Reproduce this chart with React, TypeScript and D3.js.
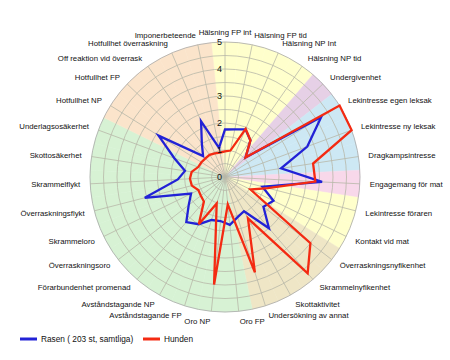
import React, { useEffect, useRef } from 'react';
import * as d3 from 'd3';

const axisLabels = [
  'Hälsning FP int', 'Hälsning FP tid', 'Hälsning NP Int', 'Hälsning NP tid',
  'Undergivenhet', 'Lekintresse egen leksak', 'Lekintresse ny leksak', 'Dragkampsintresse',
  'Engagemang för mat', 'Lekintresse föraren', 'Kontakt vid mat', 'Överraskningsnyfikenhet',
  'Skrammelnyfikenhet', 'Skottaktivitet', 'Undersökning av annat', 'Oro FP', 'Oro NP',
  'Avståndstagande FP', 'Avståndstagande NP', 'Förarbundenhet promenad', 'Överraskningsoro',
  'Skrammeloro', 'Överraskningsflykt', 'Skrammelflykt', 'Skottosäkerhet', 'Underlagsosäkerhet',
  'Hotfullhet NP', 'Hotfullhet FP', 'Off reaktion vid överrask', 'Hotfullhet överraskning',
  'Imponerbeteende',
];

// which background group each axis belongs to
const axisGroups = [
  'social', 'social', 'social', 'social',
  'undergiven', 'lek', 'lek', 'lek',
  'mat', 'social', 'social', 'nyfiken',
  'nyfiken', 'nyfiken', 'nyfiken', 'radsla', 'radsla',
  'radsla', 'radsla', 'radsla', 'radsla',
  'radsla', 'radsla', 'radsla', 'radsla', 'radsla',
  'aggr', 'aggr', 'aggr', 'aggr',
  'aggr',
];

const rasen = [
  1.76, 1.8, 1.92, 1.65,
  1.05, 4.2, 3.25, 2.1,
  3.6, 1.43, 2.0, 1.8,
  2.5, 1.45, 1.56, 1.78, 1.64,
  1.67, 2.0, 2.2, 1.7,
  1.4, 3.07, 1.75, 1.5, 2.0,
  2.9, 1.12, 1.5, 2.25,
  1.1,
];

const hunden = [
  0.95, 1.0, 1.94, 1.65,
  1.05, 5.0, 5.0, 3.3,
  3.35, 1.63, 1.05, 4.0,
  4.7, 1.75, 3.7, 1.02, 4.0,
  1.03, 2.0, 1.2, 1.13,
  1.1, 1.27, 1.3, 1.25, 1.06,
  1.03, 1.0, 1.0, 0.95,
  0.92,
];

const ticks = [0, 1, 2, 3, 4, 5];
const seriesNames = ['Rasen ( 203 st, samtliga)', 'Hunden'];

const groupColor: Record<string, string> = {
  social: '#ffffcc',
  undergiven: '#e6d0e6',
  lek: '#cde8f4',
  mat: '#f8d8ea',
  nyfiken: '#efe6c6',
  radsla: '#d7f2d4',
  aggr: '#fbe4cb',
};

const App = () => {
  const svgRef = useRef<SVGSVGElement>(null);

  useEffect(() => {
    const width = 450;
    const height = 360;
    const cx = 225;
    const cy = 177;
    const R = 135;
    const n = axisLabels.length;
    const step = (2 * Math.PI) / n;
    const font = '"Liberation Sans", Arial, sans-serif';

    const svg = d3.select(svgRef.current);
    svg.selectAll('*').remove();
    svg.attr('width', width).attr('height', height);

    const g = svg.append('g').attr('transform', `translate(${cx},${cy})`);
    const r = d3.scaleLinear().domain([0, 5]).range([0, R]);

    // background sectors
    const arc = d3.arc<number>()
      .innerRadius(0)
      .outerRadius(R)
      .startAngle((i) => i * step - step / 2)
      .endAngle((i) => i * step + step / 2);

    g.selectAll('.sector')
      .data(d3.range(n))
      .enter()
      .append('path')
      .attr('d', (i) => arc(i))
      .attr('fill', (i) => groupColor[axisGroups[i]])
      .attr('stroke', (i) => groupColor[axisGroups[i]])
      .attr('stroke-width', 0.5);

    // rings every half unit
    g.selectAll('.ring')
      .data(d3.range(0.5, 5.01, 0.5))
      .enter()
      .append('circle')
      .attr('r', (d) => r(d))
      .attr('fill', 'none')
      .attr('stroke', (d) => (d === 5 ? '#a8a8a8' : '#b8b7a8'))
      .attr('stroke-width', 0.8);

    // spokes
    g.selectAll('.spoke')
      .data(d3.range(n))
      .enter()
      .append('line')
      .attr('x1', 0)
      .attr('y1', 0)
      .attr('x2', (i) => R * Math.sin(i * step))
      .attr('y2', (i) => -R * Math.cos(i * step))
      .attr('stroke', '#b8b7a8')
      .attr('stroke-width', 0.8);

    // series
    const line = d3.lineRadial<number>()
      .angle((d, i) => i * step)
      .radius((d) => r(d))
      .curve(d3.curveLinearClosed);

    g.append('path')
      .attr('d', line(rasen))
      .attr('fill', 'none')
      .attr('stroke', '#2222d6')
      .attr('stroke-width', 2.3)
      .attr('stroke-linejoin', 'miter');

    g.append('path')
      .attr('d', line(hunden))
      .attr('fill', 'none')
      .attr('stroke', '#f42a12')
      .attr('stroke-width', 2.3)
      .attr('stroke-linejoin', 'miter');

    // tick labels
    g.selectAll('.tick')
      .data(ticks)
      .enter()
      .append('text')
      .attr('x', -3)
      .attr('y', (d) => -r(d))
      .attr('dy', '0.35em')
      .attr('text-anchor', 'end')
      .style('font-family', font)
      .style('font-size', '9px')
      .attr('fill', '#111')
      .text((d) => d);

    // axis labels
    g.selectAll('.label')
      .data(axisLabels)
      .enter()
      .append('text')
      .attr('x', (d, i) => (R + 10) * Math.sin(i * step))
      .attr('y', (d, i) => -(R + 10) * Math.cos(i * step))
      .attr('dy', '0.35em')
      .attr('text-anchor', (d, i) => {
        const s = Math.sin(i * step);
        if (Math.abs(s) < 0.01) return 'middle';
        return s > 0 ? 'start' : 'end';
      })
      .style('font-family', font)
      .style('font-size', '7.8px')
      .attr('fill', '#111')
      .text((d) => d);

    // legend
    const legendColors = ['#2222d6', '#f42a12'];
    const legendX = [20, 143];
    const legend = svg.append('g').attr('transform', 'translate(0,339)');
    seriesNames.forEach((name, i) => {
      legend.append('line')
        .attr('x1', legendX[i])
        .attr('x2', legendX[i] + 17)
        .attr('y1', 0)
        .attr('y2', 0)
        .attr('stroke', legendColors[i])
        .attr('stroke-width', 3);
      legend.append('text')
        .attr('x', legendX[i] + 21)
        .attr('y', 0)
        .attr('dy', '0.35em')
        .style('font-family', font)
        .style('font-size', '8.3px')
        .attr('fill', '#111')
        .text(name);
    });
  }, []);

  return (
    <svg ref={svgRef} style={{ position: 'absolute', left: 0, top: 0 }}>
    </svg>
  );
};

export default App;
